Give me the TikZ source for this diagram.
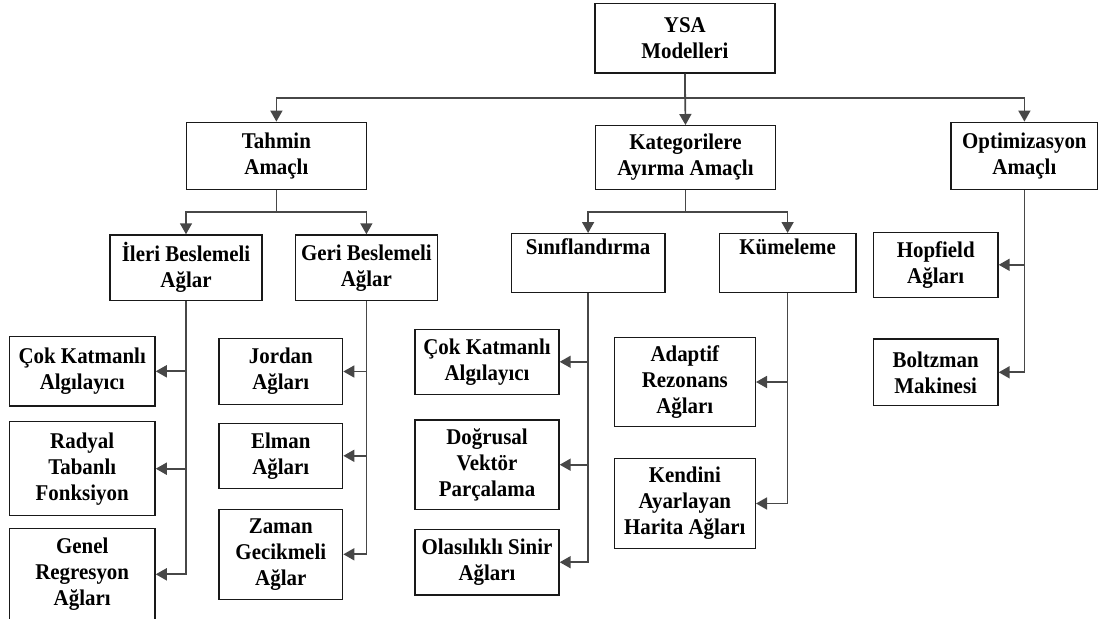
\documentclass[tikz,border=0pt]{standalone}
\usepackage{fontspec}
\setmainfont{Liberation Serif}
\newfontfamily\boxfont[FakeStretch=0.93]{Liberation Serif}
\usetikzlibrary{arrows.meta}

\tikzset{
  box/.style={draw=black!90, line width=1.4pt, fill=white, align=center,
    inner sep=0pt, font=\boxfont\bfseries\fontsize{22.5}{26}\selectfont},
  link/.style={draw=black!72, line width=1.7pt},
  arr/.style={link, -{Triangle[length=11pt,width=12pt]}},
}
\newcommand{\bx}[6]{\node[box, minimum width=#4pt, minimum height=#5pt] (#1) at (#2,#3) {#6};}

\begin{document}
\begin{tikzpicture}[x=1pt,y=-1pt]
\useasboundingbox (0,0) rectangle (1099,618);

% top level
\bx{ysa}{684.9}{38.2}{179.9}{69.7}{YSA\\Modelleri}

% second level
\bx{tah}{276.4}{155.8}{180.3}{67}{Tahmin\\Amaçlı}
\bx{kat}{685.5}{157.5}{179.9}{63.6}{Kategorilere\\Ayırma Amaçlı}
\bx{opt}{1024.4}{155.8}{146.5}{67}{Optimizasyon\\Amaçlı}

% third level
\bx{ile}{186}{267.8}{152}{65.7}{İleri Beslemeli\\Ağlar}
\bx{ger}{366.4}{267.8}{142.2}{65.7}{Geri Beslemeli\\Ağlar}
\bx{sin}{588.1}{263.1}{153.4}{58.8}{Sınıflandırma\\\strut}
\bx{kum}{787.6}{263.1}{136.5}{58.8}{Kümeleme\\\strut}
\bx{hop}{935.7}{264.8}{124.5}{65}{Hopfield\\Ağları}
\bx{bol}{935.7}{372.3}{124.5}{66.7}{Boltzman\\Makinesi}

% leaves
\bx{cka}{82.2}{371.3}{145.7}{69.3}{Çok Katmanlı\\Algılayıcı}
\bx{rad}{82.2}{468.7}{145.7}{94}{Radyal\\Tabanlı\\Fonksiyon}
\bx{gen}{82.2}{574.3}{145.7}{92}{Genel\\Regresyon\\Ağları}
\bx{jor}{280.8}{371.5}{123.7}{65.6}{Jordan\\Ağları}
\bx{elm}{280.8}{455.8}{123.7}{65}{Elman\\Ağları}
\bx{zam}{280.8}{554.3}{123.7}{90}{Zaman\\Gecikmeli\\Ağlar}
\bx{ckb}{487}{361.8}{144}{65}{Çok Katmanlı\\Algılayıcı}
\bx{dog}{487}{464.7}{144}{89.3}{Doğrusal\\Vektör\\Parçalama}
\bx{ola}{487}{562.2}{144}{65.7}{Olasılıklı Sinir\\Ağları}
\bx{ada}{684.8}{382}{141}{89.4}{Adaptif\\Rezonans\\Ağları}
\bx{ken}{684.8}{503.5}{141}{90.4}{Kendini\\Ayarlayan\\Harita Ağları}

% buses
\coordinate (b0) at (ysa.south |- 0,97.7);
\coordinate (b1) at (tah.south |- 0,211.7);
\coordinate (b2) at (kat.south |- 0,211.7);

\draw[arr] (ysa.south) -- (kat.north);
\draw[arr] (ysa.south) -- (b0) -| (tah.north);
\draw[arr] (b0) -| (opt.north);

\draw[arr] (tah.south) -- (b1) -| (ile.north);
\draw[arr] (b1) -| (ger.north);
\draw[arr] (kat.south) -- (b2) -| (sin.north);
\draw[arr] (b2) -| (kum.north);

% side branches
\draw[arr] (ile.south) |- (cka.east);
\draw[arr] (ile.south) |- (rad.east);
\draw[arr] (ile.south) |- (gen.east);
\draw[arr] (ger.south) |- (jor.east);
\draw[arr] (ger.south) |- (elm.east);
\draw[arr] (ger.south) |- (zam.east);
\draw[arr] (sin.south) |- (ckb.east);
\draw[arr] (sin.south) |- (dog.east);
\draw[arr] (sin.south) |- (ola.east);
\draw[arr] (kum.south) |- (ada.east);
\draw[arr] (kum.south) |- (ken.east);
\draw[arr] (opt.south) |- (hop.east);
\draw[arr] (opt.south) |- (bol.east);
\end{tikzpicture}
\end{document}
